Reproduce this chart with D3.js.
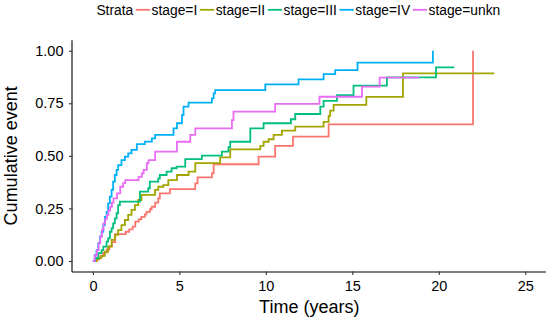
<!DOCTYPE html>
<html>
<head>
<meta charset="utf-8">
<script src="https://cdn.jsdelivr.net/npm/d3@7"></script>
<style>
  html, body { margin: 0; padding: 0; background: #fff; }
  svg { display: block; font-family: "Liberation Sans", Arial, sans-serif; }
</style>
</head>
<body>
<svg id="chart" width="549" height="321"></svg>
<script>
// ---- Data ----
const strata = ["stage=I", "stage=II", "stage=III", "stage=IV", "stage=unkn"];
const colors = ["#F8766D", "#A3A500", "#00BF7D", "#00B0F6", "#E76BF3"];

const timeI = [0, 0.25, 0.45, 0.6, 0.8, 0.95, 1.1, 1.29, 1.9, 2.1, 2.3, 2.45, 2.65, 2.8, 3.0, 3.1, 3.3, 3.4, 3.6, 3.78, 3.87, 4.45, 5.92, 6.05, 6.88, 6.98, 9.58, 10.54, 11.57, 13.63, 21.98];
const cumI  = [0, 0.012, 0.025, 0.04, 0.055, 0.07, 0.09, 0.128, 0.139, 0.15, 0.163, 0.187, 0.198, 0.21, 0.222, 0.234, 0.246, 0.258, 0.278, 0.298, 0.322, 0.342, 0.369, 0.398, 0.417, 0.46, 0.496, 0.547, 0.591, 0.65, 1.0];

const timeII = [0, 0.2, 0.35, 0.5, 0.69, 0.88, 1.08, 1.27, 1.46, 1.65, 1.85, 2.04, 2.23, 2.43, 2.62, 2.81, 3.59, 3.78, 4.07, 4.36, 4.86, 5.53, 5.92, 7.36, 7.94, 9.68, 9.87, 10.16, 10.45, 10.93, 11.7, 13.34, 13.63, 13.72, 13.92, 15.81, 17.93, 23.21];
const cumII  = [0, 0.008, 0.016, 0.024, 0.044, 0.068, 0.1, 0.124, 0.147, 0.171, 0.195, 0.219, 0.243, 0.266, 0.29, 0.314, 0.338, 0.353, 0.361, 0.385, 0.409, 0.425, 0.465, 0.493, 0.531, 0.547, 0.567, 0.579, 0.6, 0.62, 0.639, 0.662, 0.69, 0.715, 0.742, 0.78, 0.892, 0.892];

const timeIII = [0, 0.11, 0.31, 0.5, 0.6, 0.79, 0.88, 0.98, 1.08, 1.17, 1.27, 1.37, 1.46, 1.56, 2.72, 3.2, 3.29, 3.78, 3.87, 4.26, 4.55, 4.84, 5.34, 6.3, 7.46, 7.84, 7.94, 9.1, 9.87, 11.45, 11.7, 13.15, 13.34, 14.11, 15.07, 17.0, 19.84, 20.9];
const cumIII  = [0, 0.013, 0.037, 0.052, 0.068, 0.092, 0.108, 0.139, 0.155, 0.179, 0.203, 0.227, 0.266, 0.282, 0.33, 0.346, 0.377, 0.393, 0.409, 0.425, 0.441, 0.449, 0.484, 0.501, 0.52, 0.541, 0.567, 0.631, 0.655, 0.674, 0.699, 0.734, 0.761, 0.789, 0.834, 0.873, 0.921, 0.921];

const timeIV = [0, 0.11, 0.21, 0.31, 0.4, 0.5, 0.6, 0.69, 0.79, 0.88, 0.98, 1.08, 1.17, 1.27, 1.37, 1.46, 1.65, 1.85, 2.04, 2.23, 2.54, 3.0, 3.41, 3.6, 4.66, 4.86, 5.15, 5.24, 5.53, 6.88, 6.98, 7.07, 9.97, 11.89, 13.34, 14.01, 15.3, 19.66];
const cumIV  = [0, 0.029, 0.052, 0.084, 0.116, 0.139, 0.171, 0.21, 0.234, 0.274, 0.306, 0.338, 0.377, 0.409, 0.433, 0.456, 0.48, 0.496, 0.512, 0.528, 0.556, 0.568, 0.583, 0.6, 0.631, 0.655, 0.694, 0.734, 0.753, 0.773, 0.797, 0.813, 0.84, 0.864, 0.889, 0.908, 0.943, 1.0];

const timeUnkn = [0, 0.1, 0.23, 0.33, 0.42, 0.52, 0.61, 0.71, 0.81, 0.9, 1.0, 1.1, 1.19, 1.39, 1.58, 1.75, 1.87, 2.64, 2.83, 2.93, 3.12, 3.22, 3.6, 4.86, 5.63, 5.92, 8.04, 8.13, 10.54, 13.1, 15.56, 16.58, 18.87];
const cumUnkn  = [0, 0.026, 0.052, 0.085, 0.116, 0.148, 0.179, 0.2, 0.219, 0.24, 0.258, 0.278, 0.298, 0.322, 0.353, 0.37, 0.385, 0.40, 0.417, 0.433, 0.465, 0.48, 0.52, 0.567, 0.6, 0.631, 0.67, 0.71, 0.747, 0.781, 0.829, 0.872, 0.872];

const xTicks = [0, 5, 10, 15, 20, 25];
const yTicks = [0, 0.25, 0.5, 0.75, 1.0];
const xTitle = "Time (years)";
const yTitle = "Cumulative event";
const legendTitle = "Strata";

(function draw() {
  const series = [
    { name: strata[0], t: timeI, v: cumI },
    { name: strata[1], t: timeII, v: cumII },
    { name: strata[2], t: timeIII, v: cumIII },
    { name: strata[3], t: timeIV, v: cumIV },
    { name: strata[4], t: timeUnkn, v: cumUnkn }
  ];

  const svg = d3.select("#chart");
  const pLeft = 72.5, pRight = 546, pTop = 40.2, pBottom = 271.5;

  const x = d3.scaleLinear().domain([-1.18, 26.2]).range([pLeft, pRight]);
  const y = d3.scaleLinear().domain([-0.05, 1.05]).range([pBottom, pTop]);

  const line = d3.line()
    .x(d => x(d[0]))
    .y(d => y(d[1]))
    .curve(d3.curveStepAfter);

  const g = svg.append("g");
  series.forEach((s, i) => {
    const pts = s.t.map((t, k) => [t, s.v[k]]);
    g.append("path")
      .datum(pts)
      .attr("fill", "none")
      .attr("stroke", colors[i])
      .attr("stroke-width", 1.8)
      .attr("stroke-linejoin", "miter")
      .attr("d", line);
  });

  const xAxis = d3.axisBottom(x).tickValues(xTicks).tickFormat(d3.format("d"))
    .tickSize(3.5).tickSizeOuter(0).tickPadding(6);
  const yAxis = d3.axisLeft(y).tickValues(yTicks).tickFormat(d3.format(".2f"))
    .tickSize(3.5).tickSizeOuter(0).tickPadding(5.5);

  const gx = svg.append("g").attr("transform", `translate(0,${pBottom})`).call(xAxis);
  const gy = svg.append("g").attr("transform", `translate(${pLeft},0)`).call(yAxis);

  [gx, gy].forEach(ax => {
    ax.select(".domain").attr("stroke", "#000").attr("stroke-width", 1.1);
    ax.selectAll(".tick line").attr("stroke", "#333").attr("stroke-width", 1.1);
    ax.selectAll(".tick text").attr("fill", "#000")
      .style("font-size", "14.5px")
      .style("font-family", "'Liberation Sans', Arial, sans-serif");
  });
  gx.select(".domain").attr("d", `M${pLeft - 0.5},0.5H${pRight}`);
  gy.select(".domain").attr("d", `M-0.5,${pTop}V${pBottom + 0.5}`);

  svg.append("text")
    .attr("x", (pLeft + pRight) / 2).attr("y", 313)
    .attr("text-anchor", "middle")
    .style("font-size", "18px").attr("fill", "#000")
    .text(xTitle);

  svg.append("text")
    .attr("transform", `translate(17,${(pTop + pBottom) / 2}) rotate(-90)`)
    .attr("text-anchor", "middle")
    .style("font-size", "18px").attr("fill", "#000")
    .text(yTitle);

  // Legend: laid out left to right, then placed to start at x = 95
  const lg = svg.append("g");
  const fs = 13.8;
  const keyW = 14.3, gapBefore = 2.6, gapAfter = 1.5, ly = 14.5, lineY = 9.8;
  let cx = 0;
  const titleT = lg.append("text").attr("x", cx).attr("y", ly)
    .style("font-size", fs + "px").attr("fill", "#000").text(legendTitle);
  cx += titleT.node().getComputedTextLength();
  strata.forEach((name, i) => {
    cx += gapBefore;
    lg.append("line")
      .attr("x1", cx).attr("x2", cx + keyW)
      .attr("y1", lineY).attr("y2", lineY)
      .attr("stroke", colors[i]).attr("stroke-width", 1.8);
    cx += keyW + gapAfter;
    const t = lg.append("text").attr("x", cx).attr("y", ly)
      .style("font-size", fs + "px").attr("fill", "#000").text(name);
    cx += t.node().getComputedTextLength();
  });
  const legendStart = 95, legendEnd = 501.7;
  const offset = (legendStart + legendEnd) / 2 - cx / 2;
  lg.attr("transform", `translate(${offset},0)`);
})();
</script>
</body>
</html>
